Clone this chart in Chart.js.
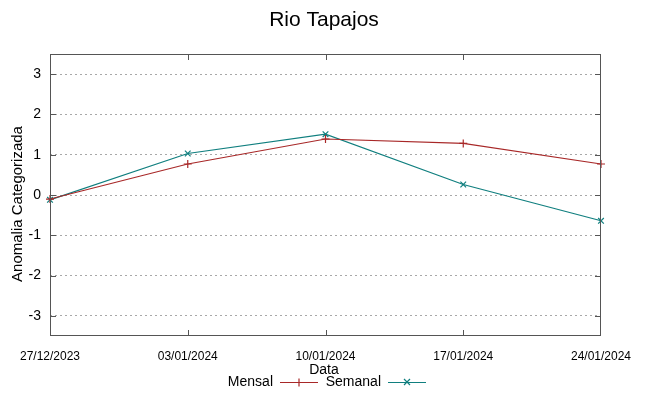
<!DOCTYPE html>
<html>
<head>
<meta charset="utf-8">
<script src="https://cdn.jsdelivr.net/npm/chart.js@4"></script>
<style>
  html, body { margin: 0; padding: 0; background: #fff; }
  #wrap { width: 649px; height: 396px; }
</style>
</head>
<body>
<div id="wrap"><canvas id="chart" width="649" height="396"></canvas></div>
<script>
// ===== DATA =====
const dates = ['27/12/2023', '03/01/2024', '10/01/2024', '17/01/2024', '24/01/2024'];
const mensal = [-0.10, 0.77, 1.39, 1.28, 0.77];
const semanal = [-0.12, 1.03, 1.51, 0.26, -0.64];
const yTicks = [-3, -2, -1, 0, 1, 2, 3];

const FONT = '"Liberation Sans Narrow", "Liberation Sans", Arial, sans-serif';
const RED = '#a82828';
const TEAL = '#107f7f';

// Frame, inward ticks, title, axis titles and legend (gnuplot look)
const gnuplotFrame = {
    id: 'gnuplotFrame',
    afterDraw(chart) {
        const ctx = chart.ctx;
        const a = chart.chartArea;
        const xs = chart.scales.x;
        const ys = chart.scales.y;
        ctx.save();

        // box
        ctx.strokeStyle = '#555';
        ctx.lineWidth = 1;
        ctx.strokeRect(a.left + 0.5, a.top + 0.5, a.right - a.left - 1, a.bottom - a.top - 1);

        // inward ticks
        ctx.beginPath();
        yTicks.forEach(v => {
            const y = Math.round(ys.getPixelForValue(v)) + 0.5;
            ctx.moveTo(a.left, y); ctx.lineTo(a.left + 6, y);
            ctx.moveTo(a.right, y); ctx.lineTo(a.right - 6, y);
        });
        dates.forEach((d, i) => {
            let x = Math.round(xs.getPixelForValue(i)) + 0.5;
            x = Math.max(a.left + 0.5, Math.min(x, a.right - 0.5));
            ctx.moveTo(x, a.bottom); ctx.lineTo(x, a.bottom - 6);
            ctx.moveTo(x, a.top); ctx.lineTo(x, a.top + 6);
        });
        ctx.stroke();

        ctx.fillStyle = '#000';
        // title
        ctx.font = '21px ' + FONT;
        ctx.textAlign = 'center';
        ctx.textBaseline = 'middle';
        ctx.fillText('Rio Tapajos', 324, 20);

        // x axis title
        ctx.font = '14px ' + FONT;
        ctx.fillText('Data', 324, 370);

        // y axis title
        ctx.save();
        ctx.translate(18, 204);
        ctx.rotate(-Math.PI / 2);
        ctx.font = '15px ' + FONT;
        ctx.fillText('Anomalia Categorizada', 0, 0);
        ctx.restore();

        // legend
        const ly = 382;
        ctx.textAlign = 'right';
        ctx.fillText('Mensal', 273, ly);
        ctx.fillText('Semanal', 381, ly);

        ctx.lineWidth = 1.2;
        ctx.strokeStyle = RED;
        ctx.beginPath();
        ctx.moveTo(280, ly + 0.5); ctx.lineTo(318, ly + 0.5);
        ctx.moveTo(299, ly - 3.5); ctx.lineTo(299, ly + 4.5);
        ctx.stroke();

        ctx.strokeStyle = TEAL;
        ctx.beginPath();
        ctx.moveTo(388, ly + 0.5); ctx.lineTo(426, ly + 0.5);
        ctx.moveTo(404, ly - 3); ctx.lineTo(410, ly + 3);
        ctx.moveTo(410, ly - 3); ctx.lineTo(404, ly + 3);
        ctx.stroke();

        ctx.restore();
    }
};

new Chart(document.getElementById('chart'), {
    type: 'line',
    data: {
        labels: dates,
        datasets: [
            {
                label: 'Mensal',
                data: mensal,
                borderColor: RED,
                backgroundColor: RED,
                borderWidth: 1.2,
                tension: 0,
                pointStyle: 'cross',
                pointRadius: 4,
                pointBorderWidth: 1.2,
                pointBorderColor: RED
            },
            {
                label: 'Semanal',
                data: semanal,
                borderColor: TEAL,
                backgroundColor: TEAL,
                borderWidth: 1.2,
                tension: 0,
                pointStyle: 'crossRot',
                pointRadius: 4,
                pointBorderWidth: 1.2,
                pointBorderColor: TEAL
            }
        ]
    },
    options: {
        responsive: false,
        animation: false,
        layout: { padding: { top: 54, right: 48, bottom: 0, left: 0 } },
        plugins: {
            legend: { display: false },
            title: { display: false },
            tooltip: { enabled: false }
        },
        scales: {
            x: {
                type: 'category',
                offset: false,
                afterFit(scale) { scale.height = 60; },
                grid: { display: false, drawTicks: false },
                border: { display: false },
                ticks: {
                    color: '#000',
                    font: { family: FONT, size: 12 },
                    padding: 13,
                    maxRotation: 0,
                    autoSkip: false
                }
            },
            y: {
                min: -3.5,
                max: 3.5,
                afterFit(scale) { scale.width = 50; },
                afterBuildTicks(scale) { scale.ticks = yTicks.map(v => ({ value: v })); },
                grid: {
                    color: '#a8a8a8',
                    lineWidth: 1,
                    drawTicks: false
                },
                border: { display: false, dash: [2, 3] },
                ticks: {
                    color: '#000',
                    font: { family: FONT, size: 14 },
                    padding: 9
                }
            }
        }
    },
    plugins: [gnuplotFrame]
});
</script>
</body>
</html>
